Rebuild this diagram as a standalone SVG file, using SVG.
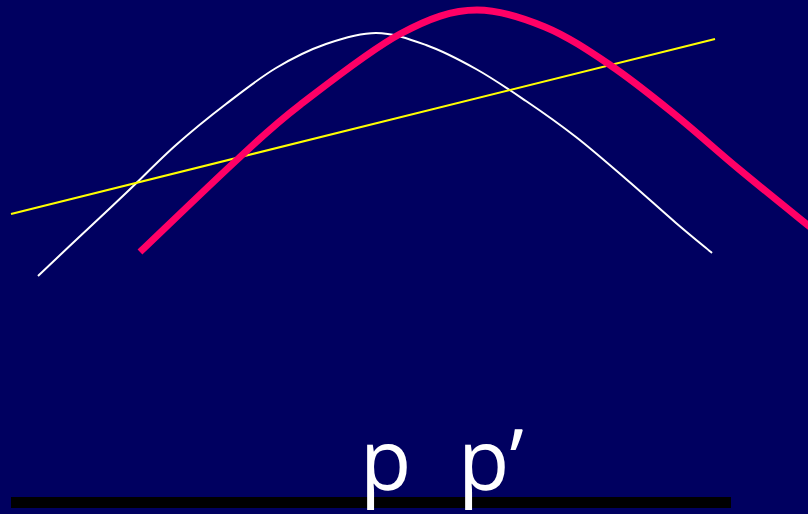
<svg xmlns="http://www.w3.org/2000/svg" width="808" height="514" viewBox="0 0 808 514">
  <style>
    .curve { fill: none; stroke-linecap: butt; stroke-linejoin: round; }
    .label { font-family: "Open Sans", "DejaVu Sans", sans-serif; font-size: 84px; fill: #ffffff; }
  </style>
  <rect x="0" y="0" width="808" height="514" fill="#000060"/>
  <g id="curves">
    <path id="white-curve" class="curve" stroke="#ffffff" stroke-width="2"
      d="M38,276 C44.3,270 61.3,253.8 76,240 C90.7,226.2 109.3,208.8 126,193 C142.7,177.2 159.3,159.8 176,145 C192.7,130.2 209.3,116.8 226,104 C242.7,91.2 259.3,78 276,68 C292.7,58 309.3,49.8 326,44 C342.7,38.2 359.3,33 376,33 C392.7,33 409.3,39 426,45 C442.7,51 459.3,59.7 476,69 C492.7,78.3 509.3,89.7 526,101 C542.7,112.3 559.3,124 576,137 C592.7,150 609.3,164.7 626,179 C642.7,193.3 661.7,210.7 676,223 C690.3,235.3 706,248 712,253"/>
    <line id="yellow-line" x1="11" y1="214" x2="715" y2="39" stroke="#ffff00" stroke-width="2"/>
    <path id="pink-curve" class="curve" stroke="#ff0066" stroke-width="7"
      d="M140,252 C156.7,236.2 213.3,181.5 240,157 C266.7,132.5 273.3,125.5 300,105 C326.7,84.5 370.5,49.8 400,34 C429.5,18.2 452,10 477,10 C499,10 522.8,17.8 545,27 C567.2,36.2 588.7,50.7 610,65 C631.3,79.3 651.3,95.5 673,113 C694.7,130.5 716.3,150.3 740,170 C763.7,189.7 802.5,220.8 815,231"/>
  </g>
  <g id="axis">
    <rect x="11" y="497" width="720" height="11" fill="#000000"/>
  </g>
  <g id="label-p">
    <text class="label" x="360" y="490">p</text>
  </g>
  <g id="label-p-prime">
    <text class="label" x="458" y="490">p’</text>
  </g>
</svg>
